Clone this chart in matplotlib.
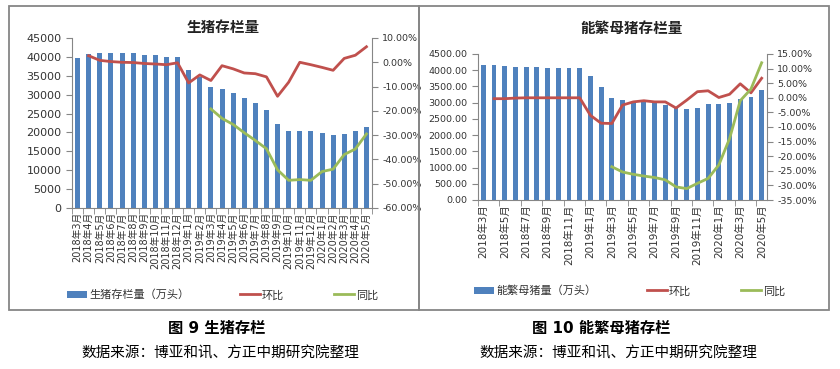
import matplotlib.pyplot as plt
import numpy as np
from matplotlib.patches import Rectangle
from matplotlib.ticker import FuncFormatter

plt.rcParams['font.family'] = ['DejaVu Sans', 'Noto Sans CJK SC']

months = ['2018年3月', '2018年4月', '2018年5月', '2018年6月', '2018年7月', '2018年8月',
          '2018年9月', '2018年10月', '2018年11月', '2018年12月', '2019年1月', '2019年2月',
          '2019年3月', '2019年4月', '2019年5月', '2019年6月', '2019年7月', '2019年8月',
          '2019年9月', '2019年10月', '2019年11月', '2019年12月', '2020年1月', '2020年2月',
          '2020年3月', '2020年4月', '2020年5月']

nan = np.nan
# 生猪存栏 (万头), 环比 %, 同比 %
pig_stock = [39700, 40800, 41000, 41000, 41000, 40900, 40600, 40400, 40000, 40000,
             36400, 34700, 31900, 31500, 30500, 29100, 27700, 25900, 22300, 20500,
             20500, 20400, 19900, 19300, 19700, 20300, 21500]
pig_mom = [nan, 2.7, 0.8, 0.3, 0.0, -0.1, -0.5, -0.7, -1.0, -0.2, -8.5, -5.2, -7.5,
           -1.4, -2.7, -4.4, -4.7, -6.0, -14.0, -8.2, 0.0, -1.0, -2.1, -3.3, 1.6, 2.9, 6.4]
pig_yoy = [nan] * 12 + [-19.2, -23.1, -25.6, -29.0, -32.2, -35.6, -44.3, -48.6, -48.3,
                        -48.6, -45.0, -44.0, -38.0, -35.7, -29.5]

# 能繁母猪存栏 (万头), 环比 %, 同比 %
sow_stock = [4160, 4160, 4125, 4105, 4110, 4110, 4080, 4080, 4080, 4060, 3810, 3480,
             3150, 3080, 3020, 3030, 2980, 2930, 2875, 2800, 2850, 2950, 2950, 2980,
             3125, 3170, 3400]
sow_mom = [nan, -0.3, -0.3, -0.1, 0.0, 0.0, 0.0, 0.0, 0.0, 0.0, -6.0, -8.7, -8.8,
           -2.5, -1.4, -1.0, -1.4, -1.4, -3.5, -0.8, 2.1, 2.4, 0.1, 1.2, 4.8, 1.7, 6.7]
sow_yoy = [nan] * 12 + [-23.6, -25.4, -26.2, -26.8, -27.3, -28.1, -30.5, -31.1, -29.3,
                        -27.6, -23.0, -14.0, -1.0, 3.0, 12.0]

BLUE = '#4F81BD'
RED = '#C0504D'
GREEN = '#9BBB59'
GRAY = '#868686'
TXT = '#333333'

W, H = 840, 369
fig = plt.figure(figsize=(8.4, 3.69), dpi=100)


def box(x0, y0, x1, y1):
    return [x0 / W, 1 - y1 / H, (x1 - x0) / W, (y1 - y0) / H]


def panel(rect, stock, mom, yoy, ylim, yticks, yfmt, rlim, rticks, step,
          xfs, lfs, rfs):
    x = np.arange(len(months))
    ax = fig.add_axes(rect)
    bars = ax.bar(x, stock, width=0.45, color=BLUE, zorder=2)
    ax.set_xlim(-0.5, len(months) - 0.5)
    ax.set_ylim(*ylim)
    ax.set_yticks(yticks)
    ax.yaxis.set_major_formatter(FuncFormatter(yfmt))
    ax.set_xticks(x[::step])
    ax.set_xticklabels(months[::step], rotation=90, fontsize=xfs, color=TXT)
    ax.set_xticks(np.arange(-0.5, len(months), step), minor=True)
    ax.tick_params(axis='x', which='major', length=0, pad=3)
    ax.tick_params(axis='x', which='minor', length=4, color=GRAY, direction='out')
    ax.tick_params(axis='y', length=4, color=GRAY, labelsize=lfs, labelcolor=TXT)
    for s in ['top', 'right']:
        ax.spines[s].set_visible(False)
    for s in ['left', 'bottom']:
        ax.spines[s].set_color(GRAY)

    ax2 = ax.twinx()
    l1, = ax2.plot(x, mom, color=RED, lw=2, zorder=3)
    l2, = ax2.plot(x, yoy, color=GREEN, lw=2, zorder=3)
    ax2.set_ylim(*rlim)
    ax2.set_yticks(rticks)
    ax2.yaxis.set_major_formatter(FuncFormatter(lambda v, p: f'{v:.2f}%'))
    ax2.tick_params(axis='y', length=4, color=GRAY, labelsize=rfs, labelcolor=TXT)
    for s in ['top', 'left', 'bottom']:
        ax2.spines[s].set_visible(False)
    ax2.spines['right'].set_color(GRAY)
    return bars, l1, l2


# left chart
b, l1, l2 = panel(box(72, 38, 372, 208), pig_stock, pig_mom, pig_yoy,
                  (0, 45000), np.arange(0, 45001, 5000), lambda v, p: f'{v:.0f}',
                  (-60, 10), np.arange(-60, 11, 10), 1, 7, 8, 6.8)
fig.text(223 / W, 1 - 27 / H, '生猪存栏量', ha='center', va='center',
         fontsize=10.5, weight='bold', color='#222222')
fig.legend([b, l1, l2], ['生猪存栏量（万头）', '环比', '同比'], loc='center',
           bbox_to_anchor=(223 / W, 1 - 295 / H), ncol=3, frameon=False, fontsize=8,
           columnspacing=4.5, handlelength=1.8, handletextpad=0.2, labelcolor=TXT)

# right chart
b, l1, l2 = panel(box(478, 54, 767, 200), sow_stock, sow_mom, sow_yoy,
                  (0, 4500), np.arange(0, 4501, 500), lambda v, p: f'{v:.2f}',
                  (-35, 15), np.arange(-35, 16, 5), 2, 7.5, 6.8, 6.8)
fig.text(632 / W, 1 - 28 / H, '能繁母猪存栏量', ha='center', va='center',
         fontsize=10.5, weight='bold', color='#222222')
fig.legend([b, l1, l2], ['能繁母猪量（万头）', '环比', '同比'], loc='center',
           bbox_to_anchor=(630 / W, 1 - 291 / H), ncol=3, frameon=False, fontsize=8,
           columnspacing=4.5, handlelength=1.8, handletextpad=0.2, labelcolor=TXT)

# frames
for x0, x1 in [(9, 419), (419, 829)]:
    fig.patches.append(Rectangle((x0 / W, 1 - 310 / H), (x1 - x0) / W, 304 / H,
                                 transform=fig.transFigure, fill=False,
                                 edgecolor=GRAY, lw=1.3))

# captions
fig.text(217 / W, 1 - 328 / H, '图 9 生猪存栏', ha='center', va='center',
         fontsize=11, weight='bold', color='black')
fig.text(220 / W, 1 - 353 / H, '数据来源：博亚和讯、方正中期研究院整理', ha='center',
         va='center', fontsize=10.5, color='black')
fig.text(601 / W, 1 - 328 / H, '图 10 能繁母猪存栏', ha='center', va='center',
         fontsize=11, weight='bold', color='black')
fig.text(618 / W, 1 - 353 / H, '数据来源：博亚和讯、方正中期研究院整理', ha='center',
         va='center', fontsize=10.5, color='black')

fig.savefig('out.png', dpi=100)
